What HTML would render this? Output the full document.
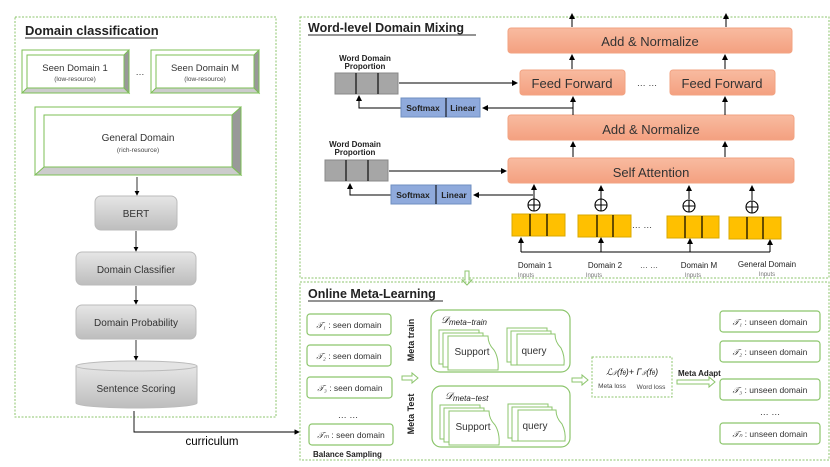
<!DOCTYPE html>
<html><head><meta charset="utf-8"><style>
html,body{margin:0;padding:0;background:#fff}
svg{display:block}
text{font-family:"Liberation Sans",sans-serif}
</style></head><body>
<svg width="830" height="467" viewBox="0 0 830 467" xmlns="http://www.w3.org/2000/svg">
<defs>
<linearGradient id="gr" x1="0" y1="0" x2="0" y2="1"><stop offset="0" stop-color="#e6e6e6"/><stop offset="1" stop-color="#bdbdbd"/></linearGradient>
<linearGradient id="or" x1="0" y1="0" x2="0" y2="1"><stop offset="0" stop-color="#f8bba0"/><stop offset="1" stop-color="#f4a080"/></linearGradient>
<marker id="a" markerWidth="6" markerHeight="6" refX="5" refY="3" orient="auto"><path d="M0,0 L6,3 L0,6z" fill="#000"/></marker>
</defs>
<!-- Left panel -->
<rect x="15" y="17" width="261" height="400" fill="none" stroke="#8cc56c" stroke-dasharray="2,1.5"/>
<text x="25" y="35" font-size="13" font-weight="bold" fill="#222">Domain classification</text>
<line x1="25" y1="38" x2="157" y2="38" stroke="#555" stroke-width="1.2"/>
<!-- bevel boxes -->
<g stroke="#7cbf56" stroke-width="1">
<rect x="22" y="50" width="107" height="43" fill="#fff"/>
<polygon points="124,55 129,50 129,93 124,88" fill="#999"/>
<polygon points="27,88 124,88 129,93 22,93" fill="#ccc"/>
<rect x="27" y="55" width="97" height="33" fill="#fff"/>
<rect x="151" y="50" width="108" height="43" fill="#fff"/>
<polygon points="254,55 259,50 259,93 254,88" fill="#999"/>
<polygon points="156,88 254,88 259,93 151,93" fill="#ccc"/>
<rect x="156" y="55" width="98" height="33" fill="#fff"/>
<rect x="35" y="107" width="206" height="68" fill="#fff"/>
<polygon points="232,115 241,107 241,175 232,167" fill="#999"/>
<polygon points="44,167 232,167 241,175 35,175" fill="#ccc"/>
<rect x="44" y="115" width="188" height="52" fill="#fff"/>
</g>
<text x="75" y="71" font-size="9.5" fill="#333" text-anchor="middle">Seen Domain 1</text>
<text x="75" y="81" font-size="6.5" fill="#444" text-anchor="middle">(low-resource)</text>
<text x="140" y="75" font-size="9" fill="#333" text-anchor="middle">…</text>
<text x="205" y="71" font-size="9.5" fill="#333" text-anchor="middle">Seen Domain M</text>
<text x="205" y="81" font-size="6.5" fill="#444" text-anchor="middle">(low-resource)</text>
<text x="138" y="141" font-size="10" fill="#333" text-anchor="middle">General Domain</text>
<text x="138" y="152" font-size="6.5" fill="#444" text-anchor="middle">(rich-resource)</text>
<g stroke="#000" stroke-width="0.8" marker-end="url(#a)">
<line x1="137" y1="177" x2="137" y2="195"/>
<line x1="136" y1="231" x2="136" y2="251"/>
<line x1="136" y1="286" x2="136" y2="304"/>
<line x1="136" y1="340" x2="136" y2="360"/>
</g>
<g stroke="#bbb" fill="url(#gr)">
<rect x="95" y="196" width="82" height="34" rx="6"/>
<rect x="76" y="252" width="120" height="33" rx="6"/>
<rect x="76" y="305" width="120" height="34" rx="6"/>
<path d="M76,366 L76,403 A60,5 0 0 0 197,403 L197,366"/>
<ellipse cx="136.5" cy="366" rx="60.5" ry="5" fill="#e4e4e4"/>
</g>
<text x="136" y="217" font-size="10" fill="#333" text-anchor="middle">BERT</text>
<text x="136" y="273" font-size="10" fill="#333" text-anchor="middle">Domain Classifier</text>
<text x="136" y="326" font-size="10" fill="#333" text-anchor="middle">Domain Probability</text>
<text x="136" y="392" font-size="10" fill="#333" text-anchor="middle">Sentence Scoring</text>
<polyline points="134,411 134,432 299,432" fill="none" stroke="#000" stroke-width="0.9" marker-end="url(#a)"/>
<text x="212" y="445" font-size="11.5" fill="#000" text-anchor="middle">curriculum</text>

<!-- Top right panel -->
<rect x="300" y="17" width="529" height="261" fill="none" stroke="#8cc56c" stroke-dasharray="2,1.5"/>
<text x="308" y="32" font-size="12.5" font-weight="bold" fill="#222">Word-level Domain Mixing</text>
<line x1="308" y1="35" x2="476" y2="35" stroke="#555" stroke-width="1.2"/>
<g fill="url(#or)" stroke="#f2a382">
<rect x="508" y="28" width="284" height="25" rx="3"/>
<rect x="520" y="70" width="105" height="25" rx="3"/>
<rect x="670" y="70" width="105" height="25" rx="3"/>
<rect x="508" y="115" width="286" height="25" rx="3"/>
<rect x="508" y="158" width="286" height="25" rx="3"/>
</g>
<g font-size="13" fill="#333" text-anchor="middle">
<text x="650" y="46">Add &amp; Normalize</text>
<text x="572" y="88">Feed Forward</text>
<text x="722" y="88">Feed Forward</text>
<text x="651" y="134">Add &amp; Normalize</text>
<text x="651" y="177">Self Attention</text>
</g>
<text x="647" y="86" font-size="9" fill="#333" text-anchor="middle">… …</text>
<g stroke="#000" stroke-width="1" marker-end="url(#a)" fill="none">
<line x1="572" y1="27" x2="572" y2="14"/>
<line x1="726" y1="27" x2="726" y2="14"/>
<line x1="572" y1="69" x2="572" y2="55"/>
<line x1="725" y1="69" x2="725" y2="55"/>
<line x1="573" y1="115" x2="573" y2="97"/>
<line x1="725" y1="115" x2="725" y2="97"/>
<line x1="573" y1="157" x2="573" y2="142"/>
<line x1="725" y1="157" x2="725" y2="142"/>
<line x1="399" y1="83" x2="517" y2="83"/>
<polyline points="573,108 483,108"/>
<polyline points="401,108 359,108 359,96"/>
<line x1="389" y1="171" x2="506" y2="171"/>
<polyline points="533,195 474,195"/>
<polyline points="391,195 350,195 350,184"/>
<line x1="534" y1="199" x2="534" y2="185"/>
<line x1="601" y1="199" x2="601" y2="186"/>
<line x1="689" y1="199" x2="689" y2="186"/>
<line x1="752" y1="200" x2="752" y2="186"/>
<line x1="521" y1="252" x2="521" y2="238"/>
<line x1="601" y1="252" x2="601" y2="238"/>
<line x1="690" y1="252" x2="690" y2="239"/>
<line x1="770" y1="252" x2="770" y2="240"/>
</g>
<line x1="521" y1="252" x2="770" y2="252" stroke="#000" stroke-width="1"/>
<g fill="none" stroke="#000" stroke-width="1.1">
<circle cx="534" cy="205" r="6"/><path d="M528,205h12M534,199v12"/>
<circle cx="601" cy="205" r="6"/><path d="M595,205h12M601,199v12"/>
<circle cx="689" cy="206" r="6"/><path d="M683,206h12M689,200v12"/>
<circle cx="752" cy="207" r="6"/><path d="M746,207h12M752,201v12"/>
</g>
<g fill="#ffc000" stroke="#d8a800">
<rect x="512" y="214" width="53" height="22"/>
<rect x="578" y="215" width="53" height="22"/>
<rect x="667" y="216" width="52" height="22"/>
<rect x="729" y="217" width="52" height="22"/>
</g>
<g stroke="#000" stroke-width="1.2">
<path d="M530,214v22M547,214v22M597,215v22M613,215v22M685,216v22M702,216v22M747,217v22M763,217v22"/>
</g>
<text x="642" y="228" font-size="9" fill="#333" text-anchor="middle">… …</text>
<g font-size="8" fill="#222" text-anchor="middle">
<text x="535" y="268">Domain 1</text><text x="605" y="268">Domain 2</text>
<text x="699" y="268">Domain M</text><text x="767" y="267">General Domain</text>
</g>
<text x="649" y="268" font-size="8" fill="#333" text-anchor="middle">… …</text>
<g font-size="6" fill="#777" text-anchor="middle">
<text x="526" y="277">Inputs</text><text x="594" y="277">Inputs</text>
<text x="693" y="277">Inputs</text><text x="767" y="276">Inputs</text>
</g>
<!-- WDP 1 -->
<text x="365" y="61" font-size="8" font-weight="bold" fill="#222" text-anchor="middle">Word Domain</text>
<text x="365" y="69" font-size="8" font-weight="bold" fill="#222" text-anchor="middle">Proportion</text>
<rect x="335" y="73" width="63" height="21" fill="#a6a6a6" stroke="#888"/>
<path d="M356,73v21M378,73v21" stroke="#000" stroke-width="1.1"/>
<rect x="401" y="98" width="79" height="19" fill="#8faadc" stroke="#6f8fc0"/>
<line x1="446" y1="98" x2="446" y2="117" stroke="#000"/>
<text x="423" y="111" font-size="8.5" font-weight="bold" fill="#222" text-anchor="middle">Softmax</text>
<text x="463" y="111" font-size="8.5" font-weight="bold" fill="#222" text-anchor="middle">Linear</text>
<!-- WDP 2 -->
<text x="355" y="147" font-size="8" font-weight="bold" fill="#222" text-anchor="middle">Word Domain</text>
<text x="355" y="155" font-size="8" font-weight="bold" fill="#222" text-anchor="middle">Proportion</text>
<rect x="325" y="160" width="63" height="21" fill="#a6a6a6" stroke="#888"/>
<path d="M346,160v21M368,160v21" stroke="#000" stroke-width="1.1"/>
<rect x="391" y="185" width="80" height="19" fill="#8faadc" stroke="#6f8fc0"/>
<line x1="436" y1="185" x2="436" y2="204" stroke="#000"/>
<text x="413" y="198" font-size="8.5" font-weight="bold" fill="#222" text-anchor="middle">Softmax</text>
<text x="454" y="198" font-size="8.5" font-weight="bold" fill="#222" text-anchor="middle">Linear</text>
<!-- hollow down arrow -->
<path d="M465,271 v9 h-3 l5,5 l5,-5 h-3 v-9z" fill="#fff" stroke="#8cc56c"/>

<!-- Bottom panel -->
<rect x="300" y="282" width="529" height="178" fill="none" stroke="#8cc56c" stroke-dasharray="2,1.5"/>
<text x="308" y="298" font-size="12.5" font-weight="bold" fill="#222">Online Meta-Learning</text>
<line x1="308" y1="301" x2="443" y2="301" stroke="#555" stroke-width="1.2"/>
<g fill="#fff" stroke="#8cc56c" stroke-width="1.2">
<rect x="307" y="314" width="84" height="21" rx="3"/>
<rect x="307" y="345" width="84" height="21" rx="3"/>
<rect x="307" y="377" width="85" height="21" rx="3"/>
<rect x="309" y="424" width="84" height="21" rx="3"/>
<rect x="720" y="311" width="100" height="21" rx="3"/>
<rect x="720" y="341" width="100" height="21" rx="3"/>
<rect x="720" y="379" width="100" height="21" rx="3"/>
<rect x="720" y="423" width="100" height="21" rx="3"/>
<rect x="431" y="310" width="139" height="62" rx="9"/>
<rect x="432" y="386" width="138" height="61" rx="9"/>
</g>
<g font-size="8.5" fill="#333" text-anchor="middle">
<text x="349" y="328"><tspan font-style="italic" font-family="Liberation Serif">𝒯₁</tspan> : seen domain</text>
<text x="349" y="359"><tspan font-style="italic" font-family="Liberation Serif">𝒯₂</tspan> : seen domain</text>
<text x="350" y="391"><tspan font-style="italic" font-family="Liberation Serif">𝒯₃</tspan> : seen domain</text>
<text x="351" y="438"><tspan font-style="italic" font-family="Liberation Serif">𝒯ₘ</tspan> : seen domain</text>
<text x="770" y="325"><tspan font-style="italic" font-family="Liberation Serif">𝒯₁</tspan> : unseen domain</text>
<text x="770" y="355"><tspan font-style="italic" font-family="Liberation Serif">𝒯₂</tspan> : unseen domain</text>
<text x="770" y="393"><tspan font-style="italic" font-family="Liberation Serif">𝒯₃</tspan> : unseen domain</text>
<text x="770" y="437"><tspan font-style="italic" font-family="Liberation Serif">𝒯ₙ</tspan> : unseen domain</text>
</g>
<text x="348" y="418" font-size="9" fill="#333" text-anchor="middle">… …</text>
<text x="770" y="415" font-size="9" fill="#333" text-anchor="middle">… …</text>
<text x="313" y="457" font-size="8" font-weight="bold" fill="#222">Balance Sampling</text>
<text transform="translate(414,340) rotate(-90)" font-size="9" font-weight="bold" fill="#222" text-anchor="middle">Meta train</text>
<text transform="translate(414,414) rotate(-90)" font-size="9" font-weight="bold" fill="#222" text-anchor="middle">Meta Test</text>
<g fill="#fff" stroke="#8cc56c">
<path d="M402,376 h10 v-3 l6,5 l-6,5 v-3 h-10z"/>
<path d="M572,378 h10 v-3 l6,5 l-6,5 v-3 h-10z"/>
<path d="M677,380 h32 v-3 l6,5 l-6,5 v-3 h-32z"/>
</g>
<text x="441" y="323" font-size="10" font-style="italic" font-family="Liberation Serif" fill="#222">𝒟<tspan font-size="8" dy="2">meta−train</tspan></text>
<text x="445" y="399" font-size="10" font-style="italic" font-family="Liberation Serif" fill="#222">𝒟<tspan font-size="8" dy="2">meta−test</tspan></text>
<g fill="#fff" stroke="#8cc56c" stroke-width="1">
<rect x="439" y="330" width="40" height="34"/><rect x="443" y="333" width="40" height="34"/>
<path d="M448,336 h40 q0,8 6,14 q5,8 4,20 h-50z"/>
<rect x="507" y="328" width="40" height="34"/><rect x="511" y="331" width="40" height="34"/>
<path d="M517,334 h38 q0,8 6,14 q4,8 3,17 h-47z"/>
<rect x="440" y="405" width="40" height="34"/><rect x="444" y="408" width="40" height="34"/>
<path d="M449,411 h40 q0,8 6,14 q5,8 4,20 h-50z"/>
<rect x="508" y="404" width="40" height="34"/><rect x="512" y="407" width="40" height="34"/>
<path d="M518,410 h38 q0,8 6,14 q4,8 3,17 h-47z"/>
</g>
<g font-size="10" fill="#333" text-anchor="middle">
<text x="472" y="355">Support</text><text x="534" y="354">query</text>
<text x="473" y="430">Support</text><text x="535" y="429">query</text>
</g>
<rect x="592" y="357" width="80" height="40" fill="#fff" stroke="#8cc56c" stroke-dasharray="2,1.5"/>
<text x="632" y="375" font-size="9" font-style="italic" font-family="Liberation Serif" fill="#222" text-anchor="middle">ℒ<tspan font-size="6">𝒯</tspan>(f<tspan font-size="6">θ</tspan>)+ Γ<tspan font-size="6">𝒯</tspan>(f<tspan font-size="6">θ</tspan>)</text>
<text x="612" y="388" font-size="6.5" fill="#444" text-anchor="middle">Meta loss</text>
<text x="651" y="389" font-size="6.5" fill="#444" text-anchor="middle">Word loss</text>
<text x="678" y="376" font-size="8" font-weight="bold" fill="#222">Meta Adapt</text>
</svg>
</body></html>
